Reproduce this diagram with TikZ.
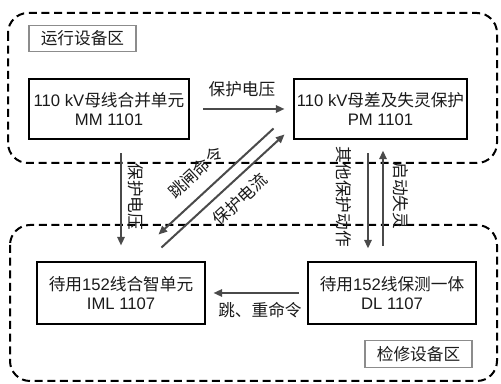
\documentclass[tikz,border=0pt]{standalone}
\usepackage{fontspec}
\setmainfont{Liberation Sans}
\newfontfamily\cjk{Noto Sans CJK SC}
\newcommand\zh[1]{{\cjk #1}}
\usetikzlibrary{arrows.meta,calc}
\definecolor{arrgray}{HTML}{4A4A4A}
\definecolor{boxgray}{HTML}{8C8C8C}
\definecolor{txt}{HTML}{1A1A1A}
\begin{document}
\begin{tikzpicture}[x=0.75pt,y=-0.75pt,
  dev/.style={draw=black, line width=2.2pt, minimum width=#1, minimum height=45pt,
    inner sep=0pt, align=center, text=txt, font=\fontsize{12.5}{14.6}\selectfont},
  zone/.style={draw=black, line width=1.5pt, dash pattern=on 6pt off 3.5pt, rounded corners=15pt},
  zonelbl/.style={draw=boxgray, line width=0.9pt, minimum width=80.25pt, minimum height=20pt,
    inner sep=0pt, text=txt, font=\fontsize{12.5}{14}\selectfont},
  arr/.style={draw=arrgray, line width=1.5pt, -{Triangle[length=6.5pt,width=5.5pt]}},
  lbl/.style={inner sep=0pt, text=txt, font=\fontsize{12.5}{14}\selectfont\cjk}]
\useasboundingbox (0,0) rectangle (501,384);
% zones
\draw[zone] (8,13) rectangle (497,163);
\draw[zone] (10,225) rectangle (497,381);
\node[zonelbl] (zup) at (82.5,38.5) {\zh{运行设备区}};
\node[zonelbl] (zdn) at (418.5,354) {\zh{检修设备区}};
% devices
\node[dev=120pt] (mm) at (109,109) {110 kV\zh{母线合并单元}\\MM 1101};
\node[dev=129.75pt] (pm) at (380.5,109) {110 kV\zh{母差及失灵保护}\\PM 1101};
\node[dev=126pt, minimum height=46.5pt] (iml) at (121,293) {\zh{待用}152\zh{线合智单元}\\IML 1107};
\node[dev=126pt, minimum height=46.5pt] (dl) at (392,293) {\zh{待用}152\zh{线保测一体}\\DL 1107};
% connectors
\draw[arr, shorten <=13pt*0.75, shorten >=8pt*0.75] (mm.east) -- (pm.west);
\draw[arr] ($(mm.south)+(12,13)$) -- ($(iml.north)+(0,-15)$);
\draw[arr] ($(pm.south west)+(-19,-12)$) -- ($(iml.north east)+(-48,-26)$);
\draw[arr] ($(iml.north east)+(-45,-13)$) -- ($(pm.south west)+(-8,-6)$);
\draw[arr] ($(pm.south)+(-12.5,13)$) -- ($(pm.south)+(-12.5,108)$);
\draw[arr] ($(dl.north)+(-9,-15)$) -- ($(dl.north)+(-9,-110)$);
\draw[arr, shorten <=8pt*0.75, shorten >=7pt*0.75] (dl.west) -- (iml.east);
% labels
\node[lbl] (t1) at (242,89.5) {保护电压};
\node[lbl, rotate=-90] (t2) at (135.5,197) {保护电压};
\node[lbl, rotate=42.6] (t3) at (195.5,172.5) {跳闸命令};
\node[lbl, rotate=42.6] (t4) at (240,199.5) {保护电流};
\node[lbl, rotate=-90] (t5) at (343.5,197) {其他保护动作};
\node[lbl, rotate=-90] (t6) at (400.5,196) {启动失灵};
\node[lbl] (t7) at (260,310.5) {跳、重命令};
\end{tikzpicture}
\end{document}
